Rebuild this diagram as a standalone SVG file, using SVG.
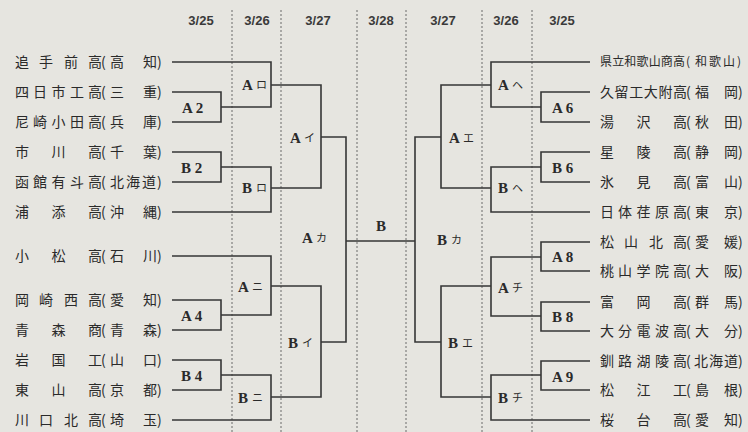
<svg xmlns="http://www.w3.org/2000/svg" width="748" height="432" viewBox="0 0 748 432">
<style>
.bg{fill:#e6e5e0}
.dash{stroke:#6a6a6a;stroke-width:1;stroke-dasharray:2 2;fill:none}
.ln{stroke:#363636;stroke-width:1.6;fill:none}
.dt{font-family:"Liberation Sans",Arial,sans-serif;font-size:13px;font-weight:bold;fill:#3a3a3a;text-anchor:middle}
.tm{font-family:"Noto Sans CJK JP","Noto Sans CJK SC",sans-serif;font-size:14px;fill:#2a2a2a}
.tm2{font-family:"Noto Sans CJK JP","Noto Sans CJK SC",sans-serif;font-size:12px;fill:#2a2a2a}
.lb{font-family:"Liberation Serif","Times New Roman",serif;font-size:15px;font-weight:bold;fill:#2a2a2a}
.kt{font-family:"Noto Sans CJK JP","Noto Sans CJK SC",sans-serif;font-size:11px;fill:#2a2a2a}
</style>
<rect class="bg" x="0" y="0" width="748" height="432"/>
<g id="grid">
<path class="dash" d="M232 10V432M281 10V432M357 10V432M406 10V432M482 10V432M532 10V432"/>
</g>
<g id="dates">
<text class="dt" x="201" y="25">3/25</text>
<text class="dt" x="257" y="25">3/26</text>
<text class="dt" x="318" y="25">3/27</text>
<text class="dt" x="381" y="25">3/28</text>
<text class="dt" x="443" y="25">3/27</text>
<text class="dt" x="506" y="25">3/26</text>
<text class="dt" x="562" y="25">3/25</text>
</g>
<g id="connectors">
<path class="ln" d="M172 62H271V107H221"/>
<path class="ln" d="M172 92H221V122H172"/>
<path class="ln" d="M271 85H321V188H271"/>
<path class="ln" d="M321 137H346V342H321"/>
<path class="ln" d="M172 152H221V182H172"/>
<path class="ln" d="M221 167H271V212H172"/>
<path class="ln" d="M172 300H221V330H172"/>
<path class="ln" d="M172 256H271V315H221"/>
<path class="ln" d="M271 286H321V397H271"/>
<path class="ln" d="M172 360H221V390H172"/>
<path class="ln" d="M221 375H271V420H172"/>
<path class="ln" d="M346 241H415"/>
<path class="ln" d="M590 62H491V107H541"/>
<path class="ln" d="M590 92H541V122H590"/>
<path class="ln" d="M491 85H441V188H491"/>
<path class="ln" d="M441 137H415V342H441"/>
<path class="ln" d="M590 152H541V182H590"/>
<path class="ln" d="M541 167H491V212H590"/>
<path class="ln" d="M590 242H541V271H590"/>
<path class="ln" d="M590 302H541V331H590"/>
<path class="ln" d="M541 257H491V316H541"/>
<path class="ln" d="M491 286H441V397H491"/>
<path class="ln" d="M590 361H541V390H590"/>
<path class="ln" d="M541 375H491V420H590"/>
</g>
<g id="teams-left">
<text id="t-l1" class="tm" x="15 39 64 88 101 110 143 157" y="67">追手前高(高知)</text>
<text id="t-l2" class="tm" x="15 33 51.5 70 88 101 110 143 157" y="97">四日市工高(三重)</text>
<text id="t-l3" class="tm" x="15 33 51.5 70 88 101 110 143 157" y="127">尼崎小田高(兵庫)</text>
<text id="t-l4" class="tm" x="15 51.5 88 101 110 143 157" y="157">市川高(千葉)</text>
<text id="t-l5" class="tm" x="15 33 51.5 70 88 101 110 126 142 157" y="187">函館有斗高(北海道)</text>
<text id="t-l6" class="tm" x="15 51.5 88 101 110 143 157" y="217">浦添高(沖縄)</text>
<text id="t-l7" class="tm" x="15 51.5 88 101 110 143 157" y="261">小松高(石川)</text>
<text id="t-l8" class="tm" x="15 39 64 88 101 110 143 157" y="305">岡崎西高(愛知)</text>
<text id="t-l9" class="tm" x="15 51.5 88 101 110 143 157" y="335">青森商(青森)</text>
<text id="t-l10" class="tm" x="15 51.5 88 101 110 143 157" y="365">岩国工(山口)</text>
<text id="t-l11" class="tm" x="15 51.5 88 101 110 143 157" y="395">東山高(京都)</text>
<text id="t-l12" class="tm" x="15 39 64 88 101 110 143 157" y="425">川口北高(埼玉)</text>
</g>
<g id="teams-right">
<text id="t-r1" class="tm2" x="600 612.2 624.3 636.5 648.7 660.8 673 686 695 709 723 737" y="66">県立和歌山商高(和歌山)</text>
<text id="t-r2" class="tm" x="600 614.6 629.2 643.8 658.4 673 686 695 724 738" y="97">久留工大附高(福岡)</text>
<text id="t-r3" class="tm" x="600 636.5 673 686 695 724 738" y="127">湯沢高(秋田)</text>
<text id="t-r4" class="tm" x="600 636.5 673 686 695 724 738" y="157">星陵高(静岡)</text>
<text id="t-r5" class="tm" x="600 636.5 673 686 695 724 738" y="187">氷見高(富山)</text>
<text id="t-r6" class="tm" x="600 618 636.5 655 673 686 695 724 738" y="217">日体荏原高(東京)</text>
<text id="t-r7" class="tm" x="600 624 649 673 686 695 724 738" y="247">松山北高(愛媛)</text>
<text id="t-r8" class="tm" x="600 618 636.5 655 673 686 695 724 738" y="276">桃山学院高(大阪)</text>
<text id="t-r9" class="tm" x="600 636.5 673 686 695 724 738" y="307">富岡高(群馬)</text>
<text id="t-r10" class="tm" x="600 618 636.5 655 673 686 695 724 738" y="336">大分電波高(大分)</text>
<text id="t-r11" class="tm" x="600 618 636.5 655 673 686 694 709 724 738" y="366">釧路湖陵高(北海道)</text>
<text id="t-r12" class="tm" x="600 636.5 673 686 695 724 738" y="395">松江工(島根)</text>
<text id="t-r13" class="tm" x="600 636.5 673 686 695 724 738" y="425">桜台高(愛知)</text>
</g>
<g id="labels">
<g id="n-A2"><text class="lb" x="182" y="113">A 2</text></g>
<g id="n-B2"><text class="lb" x="181" y="173">B 2</text></g>
<g id="n-A4"><text class="lb" x="181" y="321">A 4</text></g>
<g id="n-B4"><text class="lb" x="181" y="381">B 4</text></g>
<g id="n-Aro"><text class="lb" x="242" y="90">A</text><text class="kt" x="256" y="89">ロ</text></g>
<g id="n-Bro"><text class="lb" x="242" y="193">B</text><text class="kt" x="256" y="192">ロ</text></g>
<g id="n-Ani"><text class="lb" x="238" y="292">A</text><text class="kt" x="252" y="291">ニ</text></g>
<g id="n-Bni"><text class="lb" x="238" y="403">B</text><text class="kt" x="252" y="402">ニ</text></g>
<g id="n-Ai"><text class="lb" x="290" y="143">A</text><text class="kt" x="304" y="142">イ</text></g>
<g id="n-Bi"><text class="lb" x="288" y="348">B</text><text class="kt" x="302" y="347">イ</text></g>
<g id="n-Aka"><text class="lb" x="302" y="243">A</text><text class="kt" x="316" y="242">カ</text></g>
<g id="n-B"><text class="lb" x="376" y="231">B</text></g>
<g id="n-Bka"><text class="lb" x="437" y="245">B</text><text class="kt" x="451" y="244">カ</text></g>
<g id="n-Ae"><text class="lb" x="449" y="143">A</text><text class="kt" x="463" y="142">エ</text></g>
<g id="n-Be"><text class="lb" x="448" y="348">B</text><text class="kt" x="462" y="347">エ</text></g>
<g id="n-Ahe"><text class="lb" x="498" y="90">A</text><text class="kt" x="512" y="89">ヘ</text></g>
<g id="n-Bhe"><text class="lb" x="498" y="193">B</text><text class="kt" x="512" y="192">ヘ</text></g>
<g id="n-Achi"><text class="lb" x="498" y="293">A</text><text class="kt" x="512" y="292">チ</text></g>
<g id="n-Bchi"><text class="lb" x="498" y="403">B</text><text class="kt" x="512" y="402">チ</text></g>
<g id="n-A6"><text class="lb" x="552" y="113">A 6</text></g>
<g id="n-B6"><text class="lb" x="552" y="173">B 6</text></g>
<g id="n-A8"><text class="lb" x="552" y="262">A 8</text></g>
<g id="n-B8"><text class="lb" x="552" y="322">B 8</text></g>
<g id="n-A9"><text class="lb" x="552" y="382">A 9</text></g>
</g>
</svg>
